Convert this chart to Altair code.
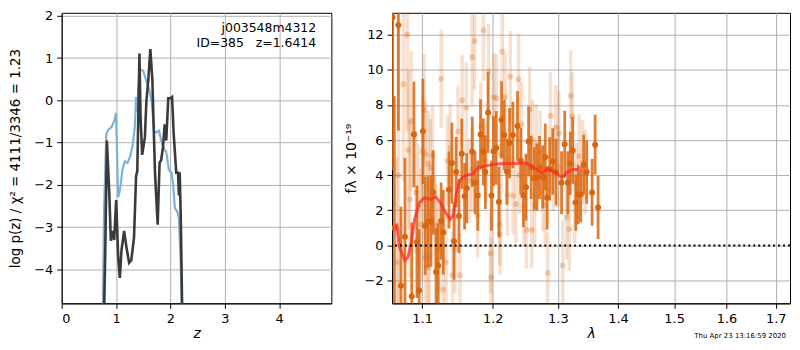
import altair as alt
import pandas as pd

# ---------------- left panel: log p(z) ----------------
pz_dark_z = [0.765, 0.80, 0.831, 0.874, 0.904, 0.935, 0.965, 1.002, 1.038, 1.069, 1.099, 1.148,
             1.19, 1.24, 1.28, 1.33, 1.368, 1.39, 1.43, 1.45, 1.48, 1.53, 1.557, 1.594, 1.63,
             1.667, 1.716, 1.765, 1.80, 1.83, 1.863, 1.894, 1.923, 1.96, 2.00, 2.03, 2.06, 2.107,
             2.14, 2.156, 2.17, 2.19, 2.228]
pz_dark_lp = [-6.0, -3.62, -0.95, -2.17, -3.32, -3.09, -3.30, -2.36, -3.70, -4.20, -3.55, -3.09,
              -3.47, -3.84, -3.78, -3.24, -1.79, -1.67, 1.11, -0.40, -1.29, -0.87, -0.03, 0.50, 1.21,
              0.50, -1.71, -2.94, -1.48, -1.41, -1.10, -0.57, -0.95, 0.05, 0.05, 0.08, -0.80, -1.71,
              -1.71, -2.25, -1.70, -2.78, -6.0]

pz_blue_z = [0.745, 0.78, 0.82, 0.855, 0.916, 0.965, 1.0, 1.026, 1.038, 1.075, 1.117, 1.16, 1.21,
             1.258, 1.30, 1.344, 1.368, 1.386, 1.41, 1.44, 1.50, 1.545, 1.606, 1.655, 1.698, 1.74,
             1.789, 1.83, 1.88, 1.923, 1.97, 2.02, 2.05, 2.08, 2.125, 2.155, 2.19, 2.225]
pz_blue_lp = [-6.0, -2.55, -0.80, -0.70, -0.63, -0.49, -0.30, -1.71, -2.29, -2.10, -1.64, -1.44,
              -1.48, -1.33, -1.10, -0.64, 0.08, -0.26, 0.28, 0.73, 0.70, 0.50, 0.28, -0.03, -0.72,
              -0.76, -0.72, -0.95, -1.14, -1.22, -1.64, -1.71, -1.98, -2.55, -2.63, -2.78, -3.85, -6.0]

label_lines = ["j003548m4312", "ID=385\u00a0\u00a0\u00a0z=1.6414"]
label_z = [4.68, 4.68]
label_lp = [1.72, 1.36]

# ---------------- right panel: spectrum ----------------
dark_wave = [1.0608, 1.0630, 1.0683, 1.0717, 1.0770, 1.0860, 1.0890, 1.0930, 1.0960, 1.1010,
             1.1040, 1.1080, 1.1120, 1.1150, 1.1190, 1.1220, 1.1260, 1.1290, 1.1370, 1.1410,
             1.1440, 1.1470, 1.1510, 1.1550, 1.1590, 1.1620, 1.1700, 1.1740, 1.1780, 1.1820,
             1.1860, 1.1890, 1.1930, 1.1980, 1.2010, 1.2050, 1.2090, 1.2130, 1.2170, 1.2210,
             1.2250, 1.2300, 1.2370, 1.2420, 1.2460, 1.2500, 1.2540, 1.2580, 1.2630, 1.2670,
             1.2710, 1.2760, 1.2800, 1.2830, 1.2870, 1.2920, 1.2970, 1.3060, 1.3110, 1.3160,
             1.3200, 1.3240, 1.3290, 1.3330, 1.3370, 1.3420, 1.3470, 1.3560, 1.3610, 1.3660]
dark_flux = [13.0, 1.0, 12.55, -2.30, 0.5, -2.90, 6.32, 0.20, -2.57, 6.50,
             1.12, 1.34, 1.39, 3.02, -1.52, -1.14, 1.39, 0.75, 3.17, 4.69,
             0.24, 4.18, 1.67, 5.22, 2.80, 3.26, 5.33, 3.57, 2.84, 6.32,
             5.33, 4.18, 7.57, 2.84, 5.37, 5.55, 2.47, 7.15, 6.29, 4.21,
             5.83, 6.29, 6.80, 4.82, 2.84, 3.32, 5.92, 4.45, 3.81, 3.89,
             4.43, 3.90, 5.04, 2.71, 4.36, 4.78, 4.18, 3.57, 5.77, 3.57,
             4.67, 5.41, 2.44, 2.90, 2.90, 4.60, 4.18, 3.02, 5.74, 2.16]
dark_err = [8.7, 7.5, 6.0, 4.5, 4.5, 4.2, 3.0, 3.2, 3.5, 3.0,
            2.8, 2.6, 2.6, 2.4, 2.5, 2.4, 2.2, 2.4, 2.2, 2.3,
            2.2, 2.0, 2.1, 2.0, 1.9, 2.0, 2.0, 1.8, 2.0, 2.0,
            1.9, 2.1, 2.3, 2.0, 2.0, 2.1, 2.0, 2.2, 2.0, 1.9,
            2.0, 1.9, 2.0, 1.9, 1.8, 1.9, 2.0, 1.8, 1.8, 1.9,
            1.8, 1.8, 1.9, 1.8, 1.8, 1.9, 1.9, 1.8, 1.9, 1.8,
            1.8, 1.9, 1.6, 1.7, 1.6, 1.7, 1.8, 1.9, 1.7, 1.8]

light_wave = [1.0662, 1.0684, 1.0749, 1.0801, 1.0814, 1.0836, 1.0853, 1.0918, 1.0956, 1.0987,
              1.1009, 1.1026, 1.1044, 1.1048, 1.1079, 1.1084, 1.1097, 1.1110, 1.1141, 1.1177,
              1.1194, 1.1230, 1.1261, 1.1288, 1.1329, 1.1347, 1.1387, 1.1419, 1.1455, 1.1496,
              1.1523, 1.1555, 1.1615, 1.1661, 1.1698, 1.1700, 1.1735, 1.1777, 1.1824, 1.1862,
              1.1900, 1.1938, 1.1966, 1.1976, 1.2014, 1.2053, 1.2101, 1.2106, 1.2120, 1.2140,
              1.2184, 1.2218, 1.2262, 1.2302, 1.2346, 1.2386, 1.2400, 1.2431, 1.2471, 1.2506,
              1.2557, 1.2588, 1.2600, 1.2634, 1.2659, 1.2721, 1.2762, 1.2799, 1.2840, 1.2882,
              1.2924, 1.2966, 1.3000, 1.3014, 1.3078, 1.3142, 1.3185, 1.3207, 1.3233, 1.3271,
              1.3303, 1.3347, 1.3401, 1.3445]
light_flux = [-0.95, 4.0, 9.18, 12.0, 5.44, 2.62, 7.09, 3.02, 2.25, 1.19,
              5.37, 7.71, -0.68, 5.19, -1.26, 4.67, -0.71, 4.42, 5.15, 1.15,
              0.79, -0.16, 9.49, -2.51, -0.95, 4.82, 5.55, -1.70, -0.20, 6.50,
              -1.70, 8.26, 7.84, 3.68, 10.72, 4.30, 11.65, 1.70, 6.80, 12.26,
              4.82, 9.91, -0.46, -1.81, 8.45, 8.39, 1.19, 0.64, 5.20, 11.05,
              8.45, 2.84, 9.62, 2.84, 2.35, 9.47, 4.00, 6.91, 2.25, 0.88,
              7.75, 0.88, 6.00, 2.29, 5.74, 5.37, 3.00, 2.29, -1.56, 7.39,
              4.27, 6.74, 4.50, 6.38, -1.15, 1.59, 0.93, 8.52, 7.35, 2.44,
              3.53, 5.09, 4.75, 4.18]
light_err = [6.0, 8.5, 5.5, 5.5, 4.5, 4.5, 4.0, 3.5, 3.5, 3.2,
             3.0, 3.2, 3.0, 3.0, 3.0, 3.0, 2.8, 2.8, 2.8, 2.8,
             2.7, 2.6, 2.8, 2.6, 2.6, 2.6, 2.5, 2.5, 2.5, 2.6,
             2.4, 2.6, 2.6, 2.4, 2.8, 2.4, 2.8, 2.4, 2.5, 2.9,
             2.4, 2.7, 2.3, 2.3, 2.5, 2.5, 2.3, 2.3, 2.3, 2.7,
             2.5, 2.3, 2.6, 2.2, 2.2, 2.6, 2.2, 2.4, 2.2, 2.2,
             2.4, 2.2, 2.3, 2.2, 2.3, 2.3, 2.2, 2.2, 2.3, 2.5,
             2.3, 2.4, 2.3, 2.4, 2.6, 2.4, 2.4, 2.6, 2.5, 2.3,
             2.3, 2.4, 2.4, 2.4]

model_wave = [1.0662, 1.0700, 1.0768, 1.0810, 1.0856, 1.0900, 1.0964, 1.1030, 1.1120, 1.1185,
              1.1250, 1.1320, 1.1385, 1.1430, 1.1475, 1.1520, 1.1610, 1.1700, 1.1790, 1.1900,
              1.2040, 1.2180, 1.2350, 1.2490, 1.2580, 1.2680, 1.2750, 1.2820, 1.2890, 1.2960,
              1.3030, 1.3080, 1.3150, 1.3240, 1.3330]
model_flux = [1.25, -0.13, -0.86, -0.68, 0.24, 1.52, 2.44, 2.71, 2.62, 2.77,
              2.44, 1.89, 1.48, 1.70, 2.99, 3.72, 4.00, 4.05, 4.45, 4.53,
              4.64, 4.67, 4.67, 4.71, 4.54, 4.27, 4.14, 4.34, 4.27, 4.18,
              3.94, 3.90, 4.18, 4.32, 4.32]
model_tail_wave = [1.3330, 1.3450]
model_tail_flux = [4.32, 4.30]

timestamp = "Thu Apr 23 13:16:59 2020"

FONT = "DejaVu Sans"
ORANGE = "#d9660f"
H = 292

# ---------- build tables ----------
dark_line = pd.DataFrame({"z": pz_dark_z, "lp": pz_dark_lp})
blue_line = pd.DataFrame({"z": pz_blue_z, "lp": pz_blue_lp})
labels = pd.DataFrame({"z": label_z, "lp": label_lp, "t": label_lines})

dark = pd.DataFrame({"w": dark_wave, "f": dark_flux, "e": dark_err})
dark["lo"] = dark["f"] - dark["e"]
dark["hi"] = dark["f"] + dark["e"]
light = pd.DataFrame({"w": light_wave, "f": light_flux, "e": light_err})
light["lo"] = light["f"] - light["e"]
light["hi"] = light["f"] + light["e"]
model = pd.DataFrame({"w": model_wave, "f": model_flux})
tail = pd.DataFrame({"w": model_tail_wave, "f": model_tail_flux})

# ---------- left panel ----------
zx = alt.X("z:Q", scale=alt.Scale(domain=[0, 4.96], nice=False, zero=False),
           axis=alt.Axis(values=[0, 1, 2, 3, 4], title="z", titleFontStyle="italic", titlePadding=1))
zy = alt.Y("lp:Q", scale=alt.Scale(domain=[-4.8, 2.07], nice=False, zero=False),
           axis=alt.Axis(values=[-4, -3, -2, -1, 0, 1, 2],
                         title="log p(z) / χ² = 4111/3346 = 1.23", titleFontSize=13.5,
                         titlePadding=11))

blue = alt.Chart(blue_line).mark_line(color="#7fb0d6", strokeWidth=2.2, clip=True).encode(x=zx, y=zy)
darkl = alt.Chart(dark_line).mark_line(color="#3a3a3a", strokeWidth=2.6, clip=True).encode(x=zx, y=zy)
txt = alt.Chart(labels).mark_text(align="right", baseline="middle", fontSize=12.5, font=FONT,
                                  color="black").encode(x="z:Q", y="lp:Q", text="t:N")
left = alt.layer(blue, darkl, txt).properties(width=271, height=H)

# ---------- right panel ----------
wx = alt.X("w:Q", scale=alt.Scale(type="log", domain=[1.06, 1.73], nice=False, zero=False),
           axis=alt.Axis(values=[1.1, 1.2, 1.3, 1.4, 1.5, 1.6, 1.7], format=".1f",
                         title="λ", titleFontStyle="italic", titlePadding=1))
fscale = alt.Scale(domain=[-3.3, 13.25], nice=False, zero=False)
fy = alt.Y("f:Q", scale=fscale,
           axis=alt.Axis(values=[-2, 0, 2, 4, 6, 8, 10, 12], title="fλ × 10⁻¹⁹"))

lbars = alt.Chart(light).mark_rule(color=ORANGE, opacity=0.2, strokeWidth=3.5, clip=True).encode(
    x=wx, y=alt.Y("lo:Q", scale=fscale), y2="hi:Q")
lpts = alt.Chart(light).mark_circle(color=ORANGE, opacity=0.3, size=34, clip=True).encode(x=wx, y=fy)
dbars = alt.Chart(dark).mark_rule(color=ORANGE, opacity=0.85, strokeWidth=2.8, clip=True).encode(
    x=wx, y=alt.Y("lo:Q", scale=fscale), y2="hi:Q")
dpts = alt.Chart(dark).mark_circle(color=ORANGE, opacity=1, size=36, clip=True).encode(x=wx, y=fy)
mline = alt.Chart(model).mark_line(color="#ff2a2a", opacity=0.75, strokeWidth=3, clip=True).encode(x=wx, y=fy)
mtail = alt.Chart(tail).mark_line(color="#ff6a6a", opacity=0.35, strokeWidth=3, clip=True).encode(x=wx, y=fy)
zero = alt.Chart(pd.DataFrame({"f": [0.0]})).mark_rule(
    color="black", strokeDash=[2, 3], strokeWidth=2).encode(y=fy)
stamp = alt.Chart(pd.DataFrame({"t": [timestamp]})).mark_text(
    align="right", baseline="middle", fontSize=7, font=FONT, color="black").encode(
    x=alt.value(396), y=alt.value(H + 33), text="t:N")

right = alt.layer(lbars, lpts, dbars, dpts, mline, mtail, zero, stamp).properties(width=400, height=H)

chart = alt.hconcat(left, right, spacing=11).properties(
    padding={"left": 0, "top": 0, "right": 0, "bottom": -2}
).configure(font=FONT).configure_view(
    stroke="black", strokeWidth=1
).configure_axis(
    labelFont=FONT, titleFont=FONT, labelFontSize=13, titleFontSize=14, labelColor="black",
    titleColor="black", titleFontWeight="normal", domainColor="black", tickColor="black",
    tickSize=5, labelPadding=4, gridColor="#b0b0b0", gridWidth=1, gridOpacity=1,
    grid=True, titlePadding=6
)

chart.save("out.html", embed_options={"renderer": "svg", "actions": False})
